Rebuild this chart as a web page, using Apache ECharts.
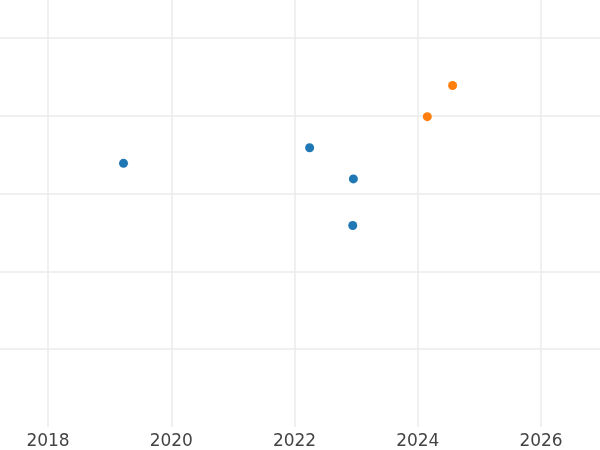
<!DOCTYPE html>
<html>
<head>
<meta charset="utf-8">
<script src="https://cdn.jsdelivr.net/npm/echarts@6/dist/echarts.min.js"></script>
<style>
  html, body { margin: 0; padding: 0; background: #fff; }
  #chart { width: 600px; height: 450px; }
</style>
</head>
<body>
<div id="chart"></div>
<script>
// x 눈금
const yearTicks = [2018, 2020, 2022, 2024, 2026];

// 점 데이터 [연도, 값]
const blueSeries = [
  [2019.225, 3.39],
  [2022.245, 3.59],
  [2022.955, 3.19],
  [2022.945, 2.59],
];
const orangeSeries = [
  [2024.155, 3.99],
  [2024.565, 4.39],
];

const chart = echarts.init(document.getElementById('chart'));

const gridColor = '#ebebeb';

const option = {
  animation: false,
  backgroundColor: '#fff',
  grid: { left: 0, right: 0, top: 0, bottom: 23 },
  xAxis: {
    type: 'value',
    min: 2017.221,
    max: 2026.957,
    axisLine: { show: false },
    axisTick: { show: false, customValues: yearTicks },
    axisLabel: {
      customValues: yearTicks,
      formatter: (v) => String(v),
      color: '#444',
      fontSize: 17,
      fontFamily: 'DejaVu Sans',
      margin: 6,
    },
    splitLine: { show: true, lineStyle: { color: gridColor, width: 1.5 } },
  },
  yAxis: {
    type: 'value',
    min: 0,
    max: 5.49,
    interval: 1,
    axisLine: { show: false },
    axisTick: { show: false },
    axisLabel: { show: false },
    splitLine: {
      show: true,
      showMinLine: false,
      showMaxLine: false,
      lineStyle: { color: gridColor, width: 1.5 },
    },
  },
  series: [
    {
      type: 'scatter',
      symbolSize: 9,
      itemStyle: { color: '#1f77b4', opacity: 1 },
      data: blueSeries,
    },
    {
      type: 'scatter',
      symbolSize: 9,
      itemStyle: { color: '#ff7f0e', opacity: 1 },
      data: orangeSeries,
    },
  ],
};

chart.setOption(option);
</script>
</body>
</html>
